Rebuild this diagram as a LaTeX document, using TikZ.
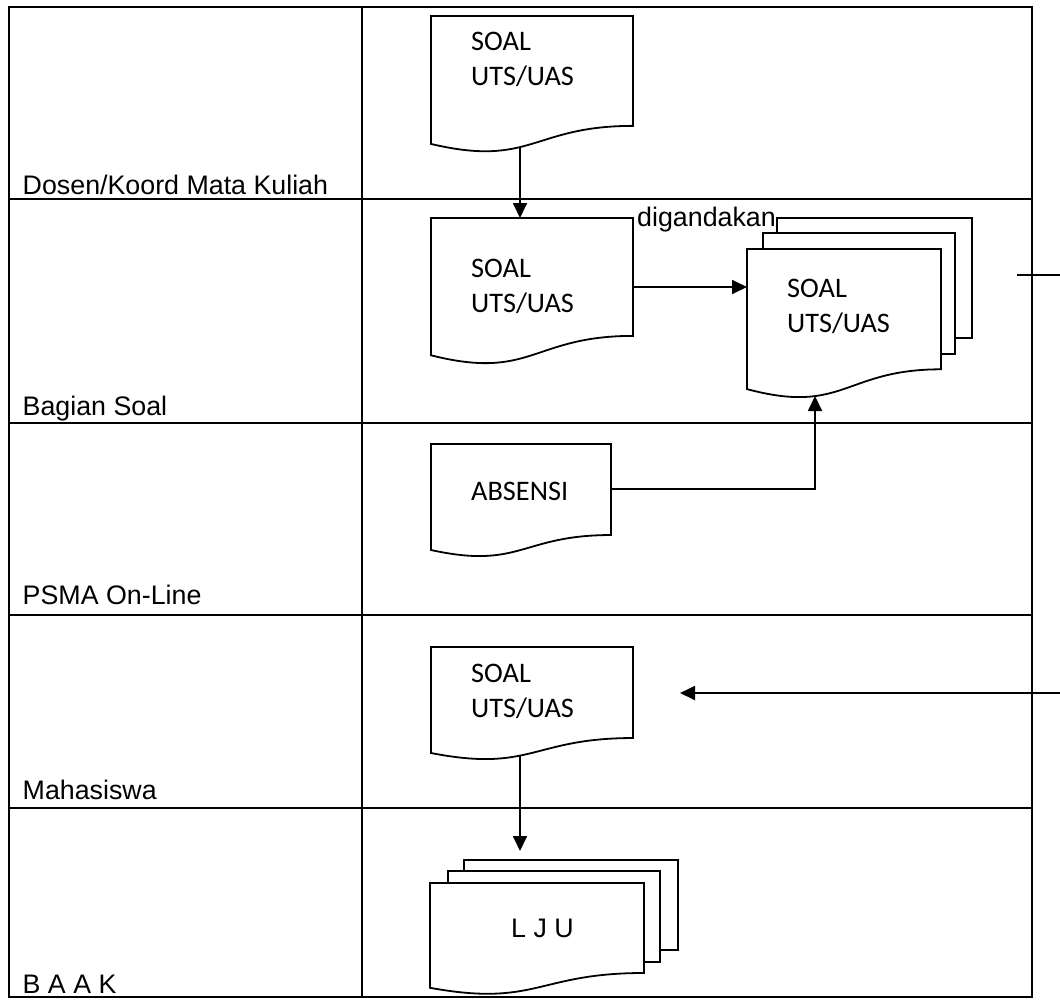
\documentclass[tikz,border=0pt]{standalone}
\usepackage{fontspec}
\setmainfont{Liberation Sans}
\newfontfamily\docfont{Carlito}
\usetikzlibrary{arrows.meta}
\newcommand\docshape[4]{%
  \draw[docline] (#1,#2) -- (#3,#2) -- (#3,{#2+0.802*#4})
    .. controls ({(#1+#3)/2},{#2+0.802*#4}) and ({(#1+#3)/2},{#2+1.1075*#4}) ..
    (#1,{#2+0.934*#4}) -- cycle;}
\begin{document}
\begin{tikzpicture}[x=1pt,y=-1pt,
  lane/.style={line width=2.8pt},
  docline/.style={line width=1.8pt, line join=miter},
  conn/.style={line width=1.8pt},
  arr/.style={conn,-{Triangle[length=15pt,width=14pt]}},
  lbl/.style={anchor=base west, inner sep=0pt, font=\fontsize{26.8}{30}\selectfont},
  doctxt/.style={anchor=base west, inner sep=0pt, align=left, font=\docfont\fontsize{28.3}{35}\selectfont}]
\fill[white] (0,0) rectangle (1060,999);
\useasboundingbox (0,0) rectangle (1060,999);

% swimlane table
\draw[lane] (9,7) rectangle (1032,997);
\draw[lane] (362,7) -- (362,997);
\foreach \yy in {199,423,615,808} \draw[lane] (9,\yy) -- (1032,\yy);

% lane labels
\node[lbl] (l1) at (22.5,194) {Dosen/Koord Mata Kuliah};
\node[lbl] (l2) at (22.5,415) {Bagian Soal};
\node[lbl] (l3) at (22.5,604) {PSMA On-Line};
\node[lbl] (l4) at (22.5,799) {Mahasiswa};
\node[lbl] (l5) at (22.5,993) {B A A K};

% documents
\docshape{431}{16}{633}{137}
\docshape{431}{218}{633}{147}
\docshape{431}{444}{611}{113.5}
\docshape{431}{647}{633}{113.5}

% multi-document: SOAL copies
\draw[docline] (777,233) -- (777,218) -- (972,218) -- (972,338) -- (955,338);
\draw[docline] (763,249) -- (763,233) -- (955,233) -- (955,354) -- (941,354);
\docshape{747}{249}{941}{150}

% multi-document: LJU
\draw[docline] (464,871) -- (464,860) -- (678,860) -- (678,950) -- (660,950);
\draw[docline] (448,883) -- (448,871) -- (660,871) -- (660,962) -- (644,962);
\docshape{430}{883}{644}{112.2}

% document texts (base anchor = baseline of the last line)
\node[doctxt] (t1) at (471,85) {SOAL\\UTS/UAS};
\node[doctxt] (t2) at (471,312) {SOAL\\UTS/UAS};
\node[doctxt] (t3) at (787,332) {SOAL\\UTS/UAS};
\node[doctxt] (t4) at (471,500) {ABSENSI};
\node[doctxt] (t5) at (471,717) {SOAL\\UTS/UAS};
\node[lbl] (t6) at (511,937) {L J U};
\node[lbl] (dg) at (637,226) {digandakan};

% connector end points
\coordinate (d1b) at (520,148);
\coordinate (d2t) at (520,218);
\coordinate (d2r) at (633,287);
\coordinate (stl) at (747,287);
\coordinate (absr) at (611,489);
\coordinate (stb) at (815,396);
\coordinate (mb) at (520,756);
\coordinate (ljt) at (520,851);
\coordinate (e1) at (1060,275);
\coordinate (e1b) at (1017,275);
\coordinate (e2) at (1060,693);
\coordinate (m2) at (680,693);

% connectors
\draw[arr] (d1b) -- (d2t);
\draw[arr] (d2r) -- (stl);
\draw[arr] (absr) -| (stb);
\draw[arr] (mb) -- (ljt);
\draw[conn] (e1) -- (e1b);
\draw[arr] (e2) -- (m2);
\end{tikzpicture}
\end{document}
